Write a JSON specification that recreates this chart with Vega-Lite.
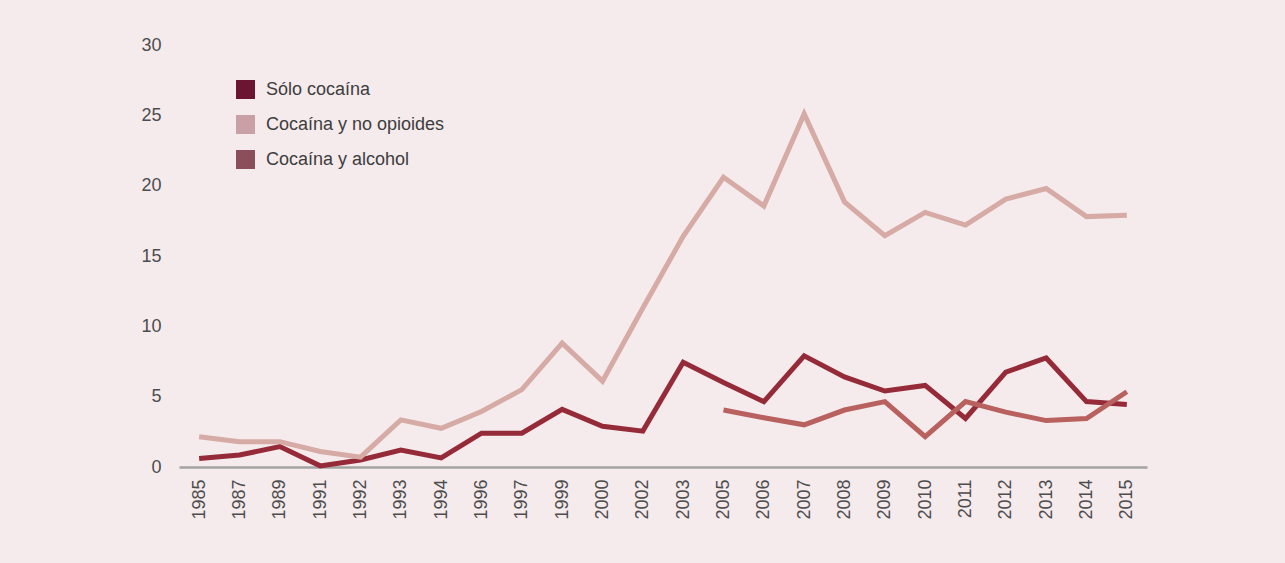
{
  "$schema": "https://vega.github.io/schema/vega-lite/v6.json",
  "autosize": {"type": "none"},
  "width": 968,
  "height": 422,
  "padding": {"left": 179, "top": 45, "right": 138, "bottom": 96},
  "background": "#f5eaec",
  "config": {
    "view": {"stroke": null},
    "font": "Liberation Sans",
    "axis": {"labelFont": "Liberation Sans", "labelFontSize": 18, "labelColor": "#4d4d4d", "grid": false, "ticks": false, "title": null},
    "legend": {"labelFont": "Liberation Sans", "labelFontSize": 18, "labelColor": "#3d3d3d", "labelLimit": 400}
  },
  "data": {
    "values": [
      {"year": "1985", "serie": "Sólo cocaína", "value": 0.6},
      {"year": "1987", "serie": "Sólo cocaína", "value": 0.85},
      {"year": "1989", "serie": "Sólo cocaína", "value": 1.45},
      {"year": "1991", "serie": "Sólo cocaína", "value": 0.08},
      {"year": "1992", "serie": "Sólo cocaína", "value": 0.5},
      {"year": "1993", "serie": "Sólo cocaína", "value": 1.2},
      {"year": "1994", "serie": "Sólo cocaína", "value": 0.65},
      {"year": "1996", "serie": "Sólo cocaína", "value": 2.4},
      {"year": "1997", "serie": "Sólo cocaína", "value": 2.4},
      {"year": "1999", "serie": "Sólo cocaína", "value": 4.1},
      {"year": "2000", "serie": "Sólo cocaína", "value": 2.9},
      {"year": "2002", "serie": "Sólo cocaína", "value": 2.55},
      {"year": "2003", "serie": "Sólo cocaína", "value": 7.45},
      {"year": "2005", "serie": "Sólo cocaína", "value": 6.0},
      {"year": "2006", "serie": "Sólo cocaína", "value": 4.65},
      {"year": "2007", "serie": "Sólo cocaína", "value": 7.9},
      {"year": "2008", "serie": "Sólo cocaína", "value": 6.4},
      {"year": "2009", "serie": "Sólo cocaína", "value": 5.4},
      {"year": "2010", "serie": "Sólo cocaína", "value": 5.8},
      {"year": "2011", "serie": "Sólo cocaína", "value": 3.45},
      {"year": "2012", "serie": "Sólo cocaína", "value": 6.75},
      {"year": "2013", "serie": "Sólo cocaína", "value": 7.75},
      {"year": "2014", "serie": "Sólo cocaína", "value": 4.65},
      {"year": "2015", "serie": "Sólo cocaína", "value": 4.45},
      {"year": "1985", "serie": "Cocaína y no opioides", "value": 2.15},
      {"year": "1987", "serie": "Cocaína y no opioides", "value": 1.8},
      {"year": "1989", "serie": "Cocaína y no opioides", "value": 1.8},
      {"year": "1991", "serie": "Cocaína y no opioides", "value": 1.1},
      {"year": "1992", "serie": "Cocaína y no opioides", "value": 0.7},
      {"year": "1993", "serie": "Cocaína y no opioides", "value": 3.35},
      {"year": "1994", "serie": "Cocaína y no opioides", "value": 2.75},
      {"year": "1996", "serie": "Cocaína y no opioides", "value": 3.95},
      {"year": "1997", "serie": "Cocaína y no opioides", "value": 5.5},
      {"year": "1999", "serie": "Cocaína y no opioides", "value": 8.8},
      {"year": "2000", "serie": "Cocaína y no opioides", "value": 6.1},
      {"year": "2002", "serie": "Cocaína y no opioides", "value": 11.3},
      {"year": "2003", "serie": "Cocaína y no opioides", "value": 16.4},
      {"year": "2005", "serie": "Cocaína y no opioides", "value": 20.6},
      {"year": "2006", "serie": "Cocaína y no opioides", "value": 18.55},
      {"year": "2007", "serie": "Cocaína y no opioides", "value": 25.1},
      {"year": "2008", "serie": "Cocaína y no opioides", "value": 18.85},
      {"year": "2009", "serie": "Cocaína y no opioides", "value": 16.45},
      {"year": "2010", "serie": "Cocaína y no opioides", "value": 18.1},
      {"year": "2011", "serie": "Cocaína y no opioides", "value": 17.2},
      {"year": "2012", "serie": "Cocaína y no opioides", "value": 19.05},
      {"year": "2013", "serie": "Cocaína y no opioides", "value": 19.8},
      {"year": "2014", "serie": "Cocaína y no opioides", "value": 17.8},
      {"year": "2015", "serie": "Cocaína y no opioides", "value": 17.9},
      {"year": "2005", "serie": "Cocaína y alcohol", "value": 4.05},
      {"year": "2006", "serie": "Cocaína y alcohol", "value": 3.5},
      {"year": "2007", "serie": "Cocaína y alcohol", "value": 3.0},
      {"year": "2008", "serie": "Cocaína y alcohol", "value": 4.05},
      {"year": "2009", "serie": "Cocaína y alcohol", "value": 4.65},
      {"year": "2010", "serie": "Cocaína y alcohol", "value": 2.15},
      {"year": "2011", "serie": "Cocaína y alcohol", "value": 4.65},
      {"year": "2012", "serie": "Cocaína y alcohol", "value": 3.9},
      {"year": "2013", "serie": "Cocaína y alcohol", "value": 3.3},
      {"year": "2014", "serie": "Cocaína y alcohol", "value": 3.45},
      {"year": "2015", "serie": "Cocaína y alcohol", "value": 5.35}
    ]
  },
  "encoding": {
    "x": {
      "field": "year",
      "type": "ordinal",
      "axis": {"labelAngle": -90, "labelPadding": 12, "domainColor": "#a3a3a3", "domainWidth": 2.5}
    },
    "y": {
      "field": "value",
      "type": "quantitative",
      "scale": {"domain": [0, 30], "nice": false},
      "axis": {"values": [0, 5, 10, 15, 20, 25, 30], "domain": false, "labelPadding": 18}
    }
  },
  "layer": [
    {
      "mark": {"type": "line", "strokeWidth": 5, "strokeJoin": "miter", "strokeCap": "butt"},
      "encoding": {
        "stroke": {
          "field": "serie",
          "type": "nominal",
          "scale": {"domain": ["Cocaína y no opioides", "Cocaína y alcohol", "Sólo cocaína"], "range": ["#d6aaa5", "#b8615f", "#952a39"]},
          "legend": null
        }
      }
    },
    {
      "transform": [{"filter": "false"}],
      "mark": {"type": "square", "filled": true},
      "encoding": {
        "fill": {
          "field": "serie",
          "type": "nominal",
          "scale": {"domain": ["Sólo cocaína", "Cocaína y no opioides", "Cocaína y alcohol"], "range": ["#6b1533", "#c9a0a6", "#8b4f5c"]},
          "legend": {
            "title": null,
            "orient": "none",
            "legendX": 57,
            "legendY": 35,
            "symbolType": "square",
            "symbolSize": 361,
            "symbolStrokeWidth": 0,
            "symbolOpacity": 1,
            "rowPadding": 16,
            "labelOffset": 11,
            "labelLimit": 400
          }
        }
      }
    }
  ]
}
